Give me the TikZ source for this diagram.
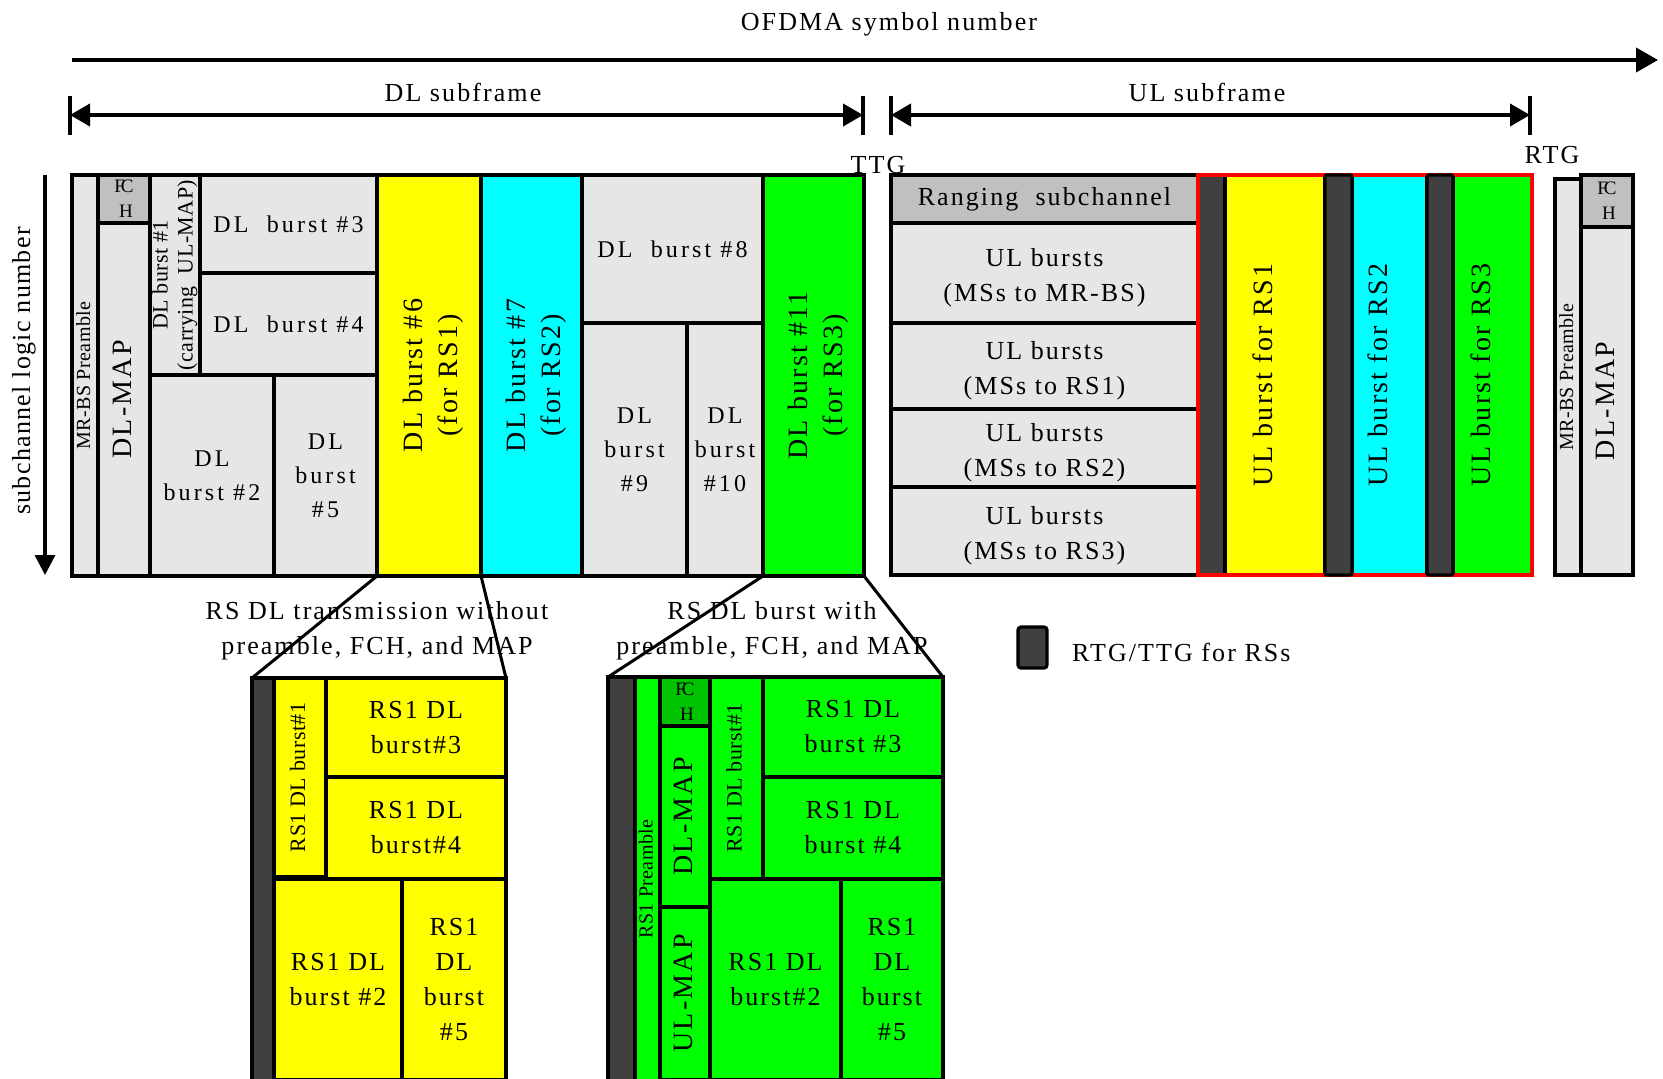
\documentclass[tikz,border=0pt]{standalone}
\usepackage{fontspec}
\usepackage{graphicx}
\setmainfont{Liberation Serif}
\newfontfamily\fontLSa[LetterSpace=8]{Liberation Serif}
\newfontfamily\fontLSb[LetterSpace=13]{Liberation Serif}
\newfontfamily\fontLSc[LetterSpace=2]{Liberation Serif}
\newfontfamily\fontLSd[LetterSpace=5]{Liberation Serif}
\usetikzlibrary{arrows.meta}
\definecolor{lg}{HTML}{E6E6E6}
\definecolor{mg}{HTML}{C0C0C0}
\definecolor{dk}{HTML}{404040}
\definecolor{yl}{HTML}{FFFF00}
\definecolor{cy}{HTML}{00FFFF}
\definecolor{gr}{HTML}{00FF00}
\definecolor{dg}{HTML}{00C400}
\definecolor{rd}{HTML}{FF0000}
\newcommand\myfA{\fontLSa\fontsize{26}{35}\selectfont}
\newcommand\myfB{\fontLSb\fontsize{24}{34}\selectfont}
\newcommand\myfR{\fontLSa\fontsize{28}{35}\selectfont}
\newcommand\myfS{\fontLSc\fontsize{20}{25}\selectfont}
\newcommand\myfT{\fontLSc\fontsize{22}{25}\selectfont}
\newcommand\myfF{\fontLSc\fontsize{19}{25}\selectfont}
\newcommand\myfL{\fontLSd\fontsize{26}{30}\selectfont}
\newcommand\vtxt[1]{\rotatebox{90}{\begin{tabular}{@{}c@{}}#1\end{tabular}}}
\newcommand\vone[1]{\rotatebox{90}{\rule[-24pt]{0pt}{24pt}#1}}
\newcommand\bx[7]{\node[cell,#6,minimum width={#4pt-#2pt},minimum height={#5pt-#3pt},anchor=north west] (#1) at (#2,#3) {#7};}
\begin{document}
\begin{tikzpicture}[x=1pt,y=-1pt,
  cell/.style={draw=black,line width=3.2pt,inner sep=0pt,outer sep=0pt,align=center,font=\myfB},
  ttl/.style={font=\myfA,inner sep=0pt},
  zl/.style={draw=black,line width=3pt},
  tickline/.style={draw=black,line width=3.2pt},
  bigarrow/.style={draw=black,line width=4pt,-{Triangle[length=22pt,width=24pt]}},
  span/.style={draw=black,line width=4pt,{Triangle[length=20pt,width=22pt]}-{Triangle[length=20pt,width=22pt]}}]
\useasboundingbox (0,0) rectangle (1663,1079);
\fill[white] (0,0) rectangle (1663,1079);

% ---- top axis ----
\node[ttl,anchor=base] (ofdma) at (889,30) {OFDMA symbol number};
\coordinate (axs) at (72,60);
\coordinate (axe) at (1658,60);
\draw[bigarrow] (axs) -- (axe);

\coordinate (t1a) at (70,96);  \coordinate (t1b) at (70,135);
\coordinate (t2a) at (863,96); \coordinate (t2b) at (863,135);
\coordinate (t3a) at (891,96); \coordinate (t3b) at (891,135);
\coordinate (t4a) at (1530,96); \coordinate (t4b) at (1530,135);
\draw[tickline] (t1a) -- (t1b);
\draw[tickline] (t2a) -- (t2b);
\draw[tickline] (t3a) -- (t3b);
\draw[tickline] (t4a) -- (t4b);
\coordinate (d1) at (70,115); \coordinate (d2) at (863,115);
\coordinate (u1) at (891,115); \coordinate (u2) at (1530,115);
\draw[span] (d1) -- (d2);
\draw[span] (u1) -- (u2);
\node[ttl,anchor=base] (dlsub) at (463,101) {DL subframe};
\node[ttl,anchor=base] (ulsub) at (1207,101) {UL subframe};
\node[ttl,anchor=base] (ttg) at (878,173) {TTG};
\node[ttl,anchor=base] (rtg) at (1552,163) {RTG};

% ---- left axis ----
\node[font=\myfL,inner sep=0pt,rotate=90] (axlab) at (24,371) {subchannel logic number};
\coordinate (vs) at (45,175);
\coordinate (ve) at (45,575);
\draw[draw=black,line width=3.5pt,-{Triangle[length=20pt,width=20pt]}] (vs) -- (ve);

% ---- DL subframe ----
\bx{pre1}{72}{175}{98}{576}{fill=lg,font=\myfS}{\vtxt{MR-BS Preamble}}
\bx{fch1}{98}{175}{150}{223}{fill=mg,font=\myfF}{F\kern-4pt C\\\hspace*{4pt}H}
\bx{dlmap1}{98}{223}{150}{576}{fill=lg,font=\myfR}{\vtxt{DL-MAP}}
\bx{b1}{150}{175}{200}{375}{fill=lg,font=\myfT}{\vtxt{DL burst \#1\\(carrying\ \ UL-MAP)}}
\bx{b3}{200}{175}{377}{273}{fill=lg}{DL\ \ burst \#3}
\bx{b4}{200}{273}{377}{375}{fill=lg}{DL\ \ burst \#4}
\bx{b2}{150}{375}{274}{576}{fill=lg}{DL\\burst \#2}
\bx{b5}{274}{375}{377}{576}{fill=lg}{DL\\burst\\\#5}
\bx{b6}{377}{175}{481}{576}{fill=yl,font=\myfR}{\vtxt{\rule{0pt}{33pt}DL burst \#6\\(for RS1)}}
\bx{b7}{481}{175}{582}{576}{fill=cy,font=\myfR}{\vtxt{\rule{0pt}{33pt}DL burst \#7\\(for RS2)}}
\bx{b8}{582}{175}{763}{323}{fill=lg}{DL\ \ burst \#8}
\bx{b9}{582}{323}{687}{576}{fill=lg}{DL\\burst\\\#9}
\bx{b10}{687}{323}{763}{576}{fill=lg}{DL\\burst\\\#10}
\bx{b11}{763}{175}{864}{576}{fill=gr,font=\myfR}{\vtxt{\rule{0pt}{33pt}DL burst \#11\\(for RS3)}}

% ---- UL subframe ----
\bx{rng}{891}{175}{1198}{223}{fill=mg,font=\myfA}{Ranging\ \ subchannel}
\bx{ul0}{891}{223}{1198}{323}{fill=lg,font=\myfA}{\rule{0pt}{27pt}UL bursts\\(MSs to MR-BS)}
\bx{ul1}{891}{323}{1198}{409}{fill=lg,font=\myfA}{\rule{0pt}{27pt}UL bursts\\(MSs to RS1)}
\bx{ul2}{891}{409}{1198}{487}{fill=lg,font=\myfA}{\rule{0pt}{27pt}UL bursts\\(MSs to RS2)}
\bx{ul3}{891}{487}{1198}{575}{fill=lg,font=\myfA}{\rule{0pt}{27pt}UL bursts\\(MSs to RS3)}
\bx{ur1}{1225}{175}{1325}{575}{fill=yl,font=\myfR}{\vone{UL burst for RS1}}
\bx{ur2}{1352}{175}{1427}{575}{fill=cy,font=\myfR}{\vone{UL burst for RS2}}
\bx{ur3}{1453}{175}{1532}{575}{fill=gr,font=\myfR}{\vone{UL burst for RS3}}
\bx{gap1}{1198}{175}{1225}{575}{fill=dk}{}
\bx{redf}{1198}{175}{1532}{575}{draw=rd}{}
\bx{gap2}{1325}{175}{1352}{575}{fill=dk,rounded corners=2pt}{}
\bx{gap3}{1427}{175}{1453}{575}{fill=dk,rounded corners=2pt}{}

% ---- next frame ----
\bx{pre2}{1555}{179}{1581}{575}{fill=lg,font=\myfS}{\vtxt{MR-BS Preamble}}
\bx{fch2}{1581}{175}{1633}{227}{fill=mg,font=\myfF}{F\kern-4pt C\\\hspace*{4pt}H}
\bx{dlmap2}{1581}{227}{1633}{575}{fill=lg,font=\myfR}{\vtxt{DL-MAP}}

% ---- legend ----
\bx{leg}{1018}{627}{1047}{668}{fill=dk,rounded corners=3pt}{}
\node[ttl,anchor=base west] (legt) at (1072,661) {RTG/TTG for RSs};

% ---- captions ----
\node[ttl,align=center] (cap1) at (377,631) {RS DL transmission without\\preamble, FCH, and MAP};
\node[ttl,align=center] (cap2) at (772,631) {RS DL burst with\\preamble, FCH, and MAP};

% ---- RS1 DL transmission without preamble ----
\bx{ybar}{252}{678}{274}{1083}{fill=dk}{}
\bx{yr1}{274}{678}{326}{877}{fill=yl,font=\myfT}{\vtxt{RS1 DL burst\#1}}
\bx{yr3}{326}{678}{506}{777}{fill=yl,font=\myfA}{RS1 DL\\burst\#3}
\bx{yr4}{326}{777}{506}{879}{fill=yl,font=\myfA}{RS1 DL\\burst\#4}
\bx{yr2}{274}{879}{402}{1080}{fill=yl,font=\myfA}{RS1 DL\\burst \#2}
\bx{yr5}{402}{879}{506}{1080}{fill=yl,font=\myfA}{RS1\\DL\\burst\\\#5}

% ---- RS DL burst with preamble ----
\bx{gbar}{608}{677}{635}{1083}{fill=dk}{}
\bx{gpre}{635}{677}{660}{1081}{fill=gr,font=\myfS}{\vtxt{RS1 Preamble}}
\bx{gfch}{660}{677}{710}{726}{fill=dg,font=\myfF}{F\kern-4pt C\\\hspace*{4pt}H}
\bx{gdl}{660}{726}{710}{907}{fill=gr,font=\myfR}{\vtxt{DL-MAP}}
\bx{gul}{660}{907}{710}{1080}{fill=gr,font=\myfR}{\vtxt{UL-MAP}}
\bx{g1}{710}{677}{763}{879}{fill=gr,font=\myfT}{\vtxt{RS1 DL burst\#1}}
\bx{g3}{763}{677}{943}{777}{fill=gr,font=\myfA}{RS1 DL\\burst \#3}
\bx{g4}{763}{777}{943}{879}{fill=gr,font=\myfA}{RS1 DL\\burst \#4}
\bx{g2}{710}{879}{841}{1080}{fill=gr,font=\myfA}{RS1 DL\\burst\#2}
\bx{g5}{841}{879}{943}{1080}{fill=gr,font=\myfA}{RS1\\DL\\burst\\\#5}

% ---- zoom lines ----
\draw[zl] (b6.south west) -- (ybar.north west);
\draw[zl] (b6.south east) -- (yr3.north east);
\draw[zl] (b11.south west) -- (gbar.north west);
\draw[zl] (b11.south east) -- (g3.north east);
\end{tikzpicture}
\end{document}
